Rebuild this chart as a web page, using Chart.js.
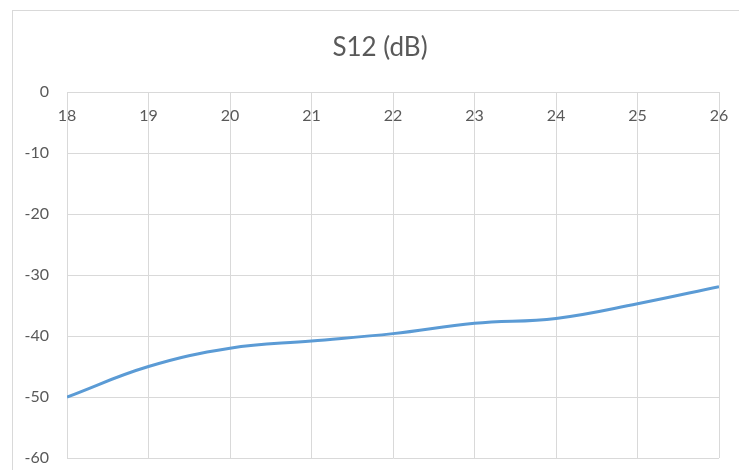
<!DOCTYPE html>
<html>
<head>
<meta charset="utf-8">
<script src="https://cdn.jsdelivr.net/npm/chart.js@4.4.1/dist/chart.umd.min.js"></script>
<style>
  html, body { margin: 0; padding: 0; background: #fff; overflow: hidden; }
  body { width: 739px; height: 470px; position: relative; }
  #box {
    position: absolute; left: 12px; top: 10px;
    width: 734px; height: 470px;
    border-left: 1px solid #d9d9d9; border-top: 1px solid #d9d9d9;
  }
</style>
</head>
<body>
<div id="box"><canvas id="chart" width="734" height="470"></canvas></div>
<script>
// S12 vs frequency
const freqs = [18, 19, 20, 21, 22, 23, 24, 25, 26];
const s12 = [-50, -45, -42, -40.8, -39.6, -37.9, -37.1, -34.7, -31.9];
const yTicks = [0, -10, -20, -30, -40, -50, -60];

const gridColor = '#d9d9d9';
const textColor = '#595959';

new Chart(document.getElementById('chart').getContext('2d'), {
  type: 'line',
  data: {
    datasets: [{
      label: 'S12 (dB)',
      data: freqs.map((f, i) => ({ x: f, y: s12[i] })),
      borderColor: '#5b9bd5',
      borderWidth: 3,
      pointRadius: 0,
      tension: 0.4,
      fill: false
    }]
  },
  options: {
    responsive: false,
    animation: false,
    layout: { padding: { left: 0, right: 0, top: 0, bottom: 23 } },
    plugins: {
      legend: { display: false },
      tooltip: { enabled: false },
      title: {
        display: true,
        text: 'S12 (dB)',
        color: textColor,
        font: { family: 'Lato', size: 26, weight: 'normal' },
        padding: { top: 21, bottom: 29 }
      }
    },
    scales: {
      x: {
        type: 'linear',
        position: { y: 0 },
        min: freqs[0],
        max: freqs[freqs.length - 1],
        ticks: {
          stepSize: 1,
          color: textColor,
          padding: 14,
          font: { family: 'Lato', size: 16 }
        },
        grid: { color: gridColor, drawTicks: false },
        border: { color: gridColor }
      },
      y: {
        min: yTicks[yTicks.length - 1],
        max: yTicks[0],
        afterBuildTicks: (scale) => { scale.ticks = yTicks.map(v => ({ value: v })); },
        afterFit: (scale) => {
          scale.width = 54;
          // label overhang is small; let the layout padding decide the plot edges
          scale.paddingTop = 0;
          scale.paddingBottom = 0;
        },
        ticks: {
          color: textColor,
          padding: 18,
          font: { family: 'Lato', size: 16 }
        },
        grid: { color: gridColor, drawTicks: false },
        border: { color: gridColor }
      },
      // empty right-hand spacer so the title stays centred on the whole box
      yRight: {
        position: 'right',
        display: true,
        afterFit: (scale) => { scale.width = 28; },
        ticks: { display: false },
        grid: { display: false, drawTicks: false },
        border: { display: false }
      }
    }
  }
});
</script>
</body>
</html>
